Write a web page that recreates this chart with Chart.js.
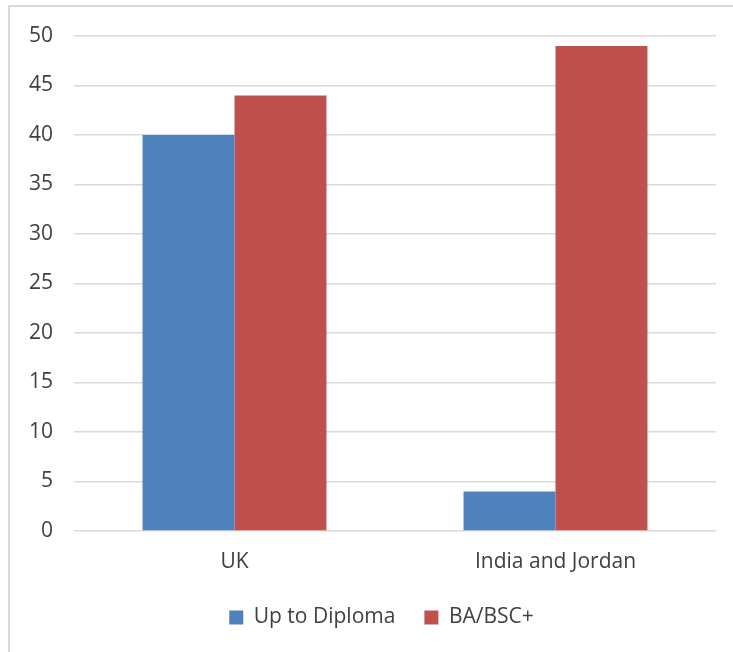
<!DOCTYPE html>
<html>
<head>
<meta charset="utf-8">
<script src="https://cdn.jsdelivr.net/npm/chart.js@4/dist/chart.umd.min.js"></script>
<style>
  html, body { margin: 0; padding: 0; background: #fff; overflow: hidden; }
  #frame { position: absolute; left: 8px; top: 5px; width: 760px; height: 700px;
           border: 2px solid #d9d9d9; box-sizing: border-box; }
  #c { position: absolute; left: 0; top: 0; }
</style>
</head>
<body>
<div id="frame"></div>
<canvas id="c" width="733" height="652"></canvas>
<script>
// Share of respondents by education level
const categories = ['UK', 'India and Jordan'];
const upToDiploma = [40, 4];
const baBscPlus = [44, 49];
const yTicks = [0, 5, 10, 15, 20, 25, 30, 35, 40, 45, 50];

const textColor = '#404040';
const gridColor = '#d9d9d9';
const font = { family: "'Open Sans', sans-serif", size: 21 };

// Nudge the legend so it sits centred under the framed area
const legendShift = {
  id: 'legendShift',
  afterLayout(chart) {
    const lg = chart.legend;
    if (lg) { lg.left += 19; lg.right += 19; }
  }
};

new Chart(document.getElementById('c'), {
  type: 'bar',
  data: {
    labels: categories,
    datasets: [
      { label: 'Up to Diploma', data: upToDiploma, backgroundColor: '#4f81bd', borderWidth: 0 },
      { label: 'BA/BSC+', data: baBscPlus, backgroundColor: '#c0504d', borderWidth: 0 }
    ]
  },
  options: {
    responsive: false,
    animation: false,
    devicePixelRatio: 1,
    layout: { padding: { left: 9, right: 17, top: 36, bottom: 14 } },
    datasets: { bar: { barPercentage: 1, categoryPercentage: 0.573 } },
    scales: {
      x: {
        grid: { display: false, drawTicks: false },
        border: { display: false },
        ticks: { color: textColor, font: font, padding: 18 },
        afterFit: s => { s.height = 47; }
      },
      y: {
        min: 0, max: 50,
        afterBuildTicks: s => { s.ticks = yTicks.map(v => ({ value: v })); },
        grid: { color: gridColor, lineWidth: 1.5, drawTicks: false },
        border: { display: false },
        ticks: { color: textColor, font: font, padding: 21 },
        afterFit: s => { s.width = 65; }
      }
    },
    plugins: {
      legend: {
        position: 'bottom',
        labels: { color: textColor, font: font, boxWidth: 14, boxHeight: 14, padding: 29 }
      },
      tooltip: { enabled: false }
    }
  },
  plugins: [legendShift]
});
</script>
</body>
</html>
